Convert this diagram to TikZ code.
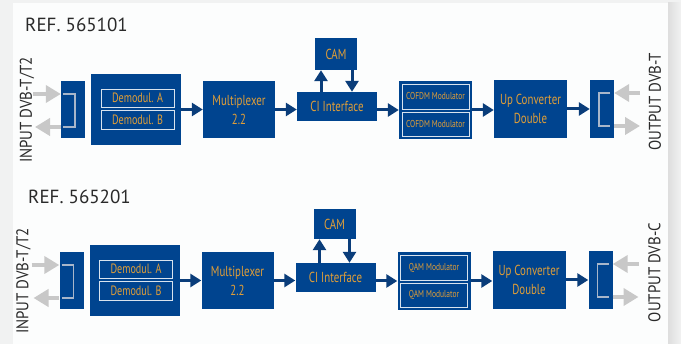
\documentclass[tikz,border=0pt]{standalone}
\usepackage{fontspec}
\setmainfont{PT Sans}
\newfontfamily\boxfont[FakeStretch=0.75]{PT Sans}
\newfontfamily\sidefont[FakeStretch=0.88]{PT Sans}
\usetikzlibrary{arrows.meta}
\definecolor{boxblue}{HTML}{00448F}
\definecolor{labelorange}{HTML}{E09E38}
\definecolor{linkblue}{HTML}{0A3D7A}
\definecolor{signalgray}{HTML}{C8C8C8}
\definecolor{panelwhite}{HTML}{FCFDFD}
\definecolor{outside}{HTML}{F1F2F2}
\definecolor{bracketline}{HTML}{A8B6CA}
\definecolor{titlegray}{HTML}{2A2A2A}
\tikzset{
  block/.style={fill=boxblue, text=labelorange, inner sep=0pt, align=center,
    font=\boxfont\fontsize{14.5}{19}\selectfont},
  subblock/.style={draw=white!85!boxblue, line width=0.9pt, fill=boxblue,
    text=labelorange, inner sep=0pt, font=\boxfont\fontsize{13.5}{15}\selectfont},
  modblock/.style={subblock, font=\boxfont\fontsize{10}{12}\selectfont},
  link/.style={draw=linkblue, line width=3pt, -{Triangle[length=11pt,width=13pt]}},
  signal/.style={draw=signalgray, line width=4.5pt, -{Triangle[length=15pt,width=17pt]}},
  bracket/.style={draw=bracketline, line width=1.2pt},
  title/.style={anchor=base west, text=titlegray, inner sep=0pt,
    font=\fontsize{19}{21}\selectfont},
  sidelabel/.style={rotate=90, text=titlegray, inner sep=0pt,
    font=\sidefont\fontsize{17}{19}\selectfont},
}
\begin{document}
\begin{tikzpicture}[x=1pt,y=-1pt]
% page and panel
\fill[outside] (0,0) rectangle (681,344);
\shade[left color=black!13, right color=outside] (668,3) rectangle (681,344);
\fill[panelwhite] (13,3.5) rectangle (668,344);
\useasboundingbox (0,0) rectangle (681,344);

% ---------- upper chain: REF. 565101 ----------
\node[title] (ta) at (25,32) {REF. 565101};
\node[sidelabel] (ainlabel) at (27,110) {INPUT DVB-T/T2};
\node[sidelabel] (aoutlabel) at (655,102) {OUTPUT DVB-T};

\node[block, minimum width=24pt, minimum height=57pt] (ain) at (73,109.5) {};
\node[block, minimum width=90pt, minimum height=71pt] (ademod) at (136,109.5) {};
\node[subblock, minimum width=73pt, minimum height=18pt] (ademA) at (137.5,98) {Demodul. A};
\node[subblock, minimum width=73pt, minimum height=19pt] (ademB) at (137.5,119.5) {Demodul. B};
\node[block, minimum width=72pt, minimum height=57pt] (amux) at (239,109.5) {Multiplexer\\2.2};
\node[block, minimum width=80pt, minimum height=29pt] (aci) at (337,106.5) {CI Interface};
\node[block, minimum width=42pt, minimum height=32pt] (acam) at (336,54) {CAM};
\node[block, minimum width=73pt, minimum height=58pt] (amod) at (435.5,110) {};
\node[modblock, minimum width=67pt, minimum height=25pt] (amodA) at (435.5,96.5) {COFDM Modulator};
\node[modblock, minimum width=67pt, minimum height=24pt] (amodB) at (435.5,124) {COFDM Modulator};
\node[block, minimum width=73pt, minimum height=58pt] (aup) at (530.5,109) {Up Converter\\Double};
\node[block, minimum width=24pt, minimum height=58pt] (aout) at (602,109) {};

\draw[link] (ademod.east) -- (amux.west);
\draw[link] (amux.east) -- (aci.west |- amux.east);
\draw[link] (aci.east |- amod.west) -- (amod.west);
\draw[link] (amod.east) -- (aup.west |- amod.east);
\draw[link] (aup.east) -- (aout.west);
\path ([xshift=-15pt]acam.south) coordinate (acamL) ([xshift=16pt]acam.south) coordinate (acamR);
\draw[link] (aci.north -| acamL) -- (acamL);
\draw[link] (acamR) -- (aci.north -| acamR);

\coordinate (ainA) at (33,94);
\coordinate (ainB) at (35,127);
\coordinate (aoutA) at (640,93);
\coordinate (aoutB) at (640,126);
\draw[signal] (ainA) -- (ain.west |- ainA);
\draw[signal] (ain.west |- ainB) -- (ainB);
\draw[signal] (aoutA) -- (aout.east |- aoutA);
\draw[signal] (aout.east |- aoutB) -- (aoutB);
\draw[bracket] (63,94) -- (75,94) -- (75,127) -- (63,127);
\draw[bracket] (610,93) -- (599,93) -- (599,126) -- (610,126);

% ---------- lower chain: REF. 565201 ----------
\node[title] (tb) at (28,204) {REF. 565201};
\begin{scope}[shift={(-1.5,171)}]
\node[sidelabel] (binlabel) at (25,110) {INPUT DVB-T/T2};
\node[sidelabel] (boutlabel) at (656,101.5) {OUTPUT DVB-C};

\node[block, minimum width=24pt, minimum height=57pt] (bin) at (73,109.5) {};
\node[block, minimum width=90pt, minimum height=71pt] (bdemod) at (136,109.5) {};
\node[subblock, minimum width=73pt, minimum height=18pt] (bdemA) at (137.5,98) {Demodul. A};
\node[subblock, minimum width=73pt, minimum height=19pt] (bdemB) at (137.5,119.5) {Demodul. B};
\node[block, minimum width=72pt, minimum height=57pt] (bmux) at (239,109.5) {Multiplexer\\2.2};
\node[block, minimum width=80pt, minimum height=29pt] (bci) at (337,106.5) {CI Interface};
\node[block, minimum width=42pt, minimum height=30pt] (bcam) at (336,53) {CAM};
\node[block, minimum width=73pt, minimum height=58pt] (bmod) at (435.5,110) {};
\node[modblock, minimum width=67pt, minimum height=25pt] (bmodA) at (435.5,96.5) {QAM Modulator};
\node[modblock, minimum width=67pt, minimum height=24pt] (bmodB) at (435.5,124) {QAM Modulator};
\node[block, minimum width=73pt, minimum height=58pt] (bup) at (530.5,109) {Up Converter\\Double};
\node[block, minimum width=24pt, minimum height=58pt] (bout) at (602,109) {};

\draw[link] (bdemod.east) -- (bmux.west);
\draw[link] (bmux.east) -- (bci.west |- bmux.east);
\draw[link] (bci.east |- bmod.west) -- (bmod.west);
\draw[link] (bmod.east) -- (bup.west |- bmod.east);
\draw[link] (bup.east) -- (bout.west);
\path ([xshift=-15pt]bcam.south) coordinate (bcamL) ([xshift=15pt]bcam.south) coordinate (bcamR);
\draw[link] (bci.north -| bcamL) -- (bcamL);
\draw[link] (bcamR) -- (bci.north -| bcamR);

\coordinate (binA) at (33,94);
\coordinate (binB) at (35,127);
\coordinate (boutA) at (640,93);
\coordinate (boutB) at (640,126);
\draw[signal] (binA) -- (bin.west |- binA);
\draw[signal] (bin.west |- binB) -- (binB);
\draw[signal] (boutA) -- (bout.east |- boutA);
\draw[signal] (bout.east |- boutB) -- (boutB);
\draw[bracket] (63,94) -- (75,94) -- (75,127) -- (63,127);
\draw[bracket] (610,93) -- (599,93) -- (599,126) -- (610,126);
\end{scope}
\end{tikzpicture}
\end{document}
